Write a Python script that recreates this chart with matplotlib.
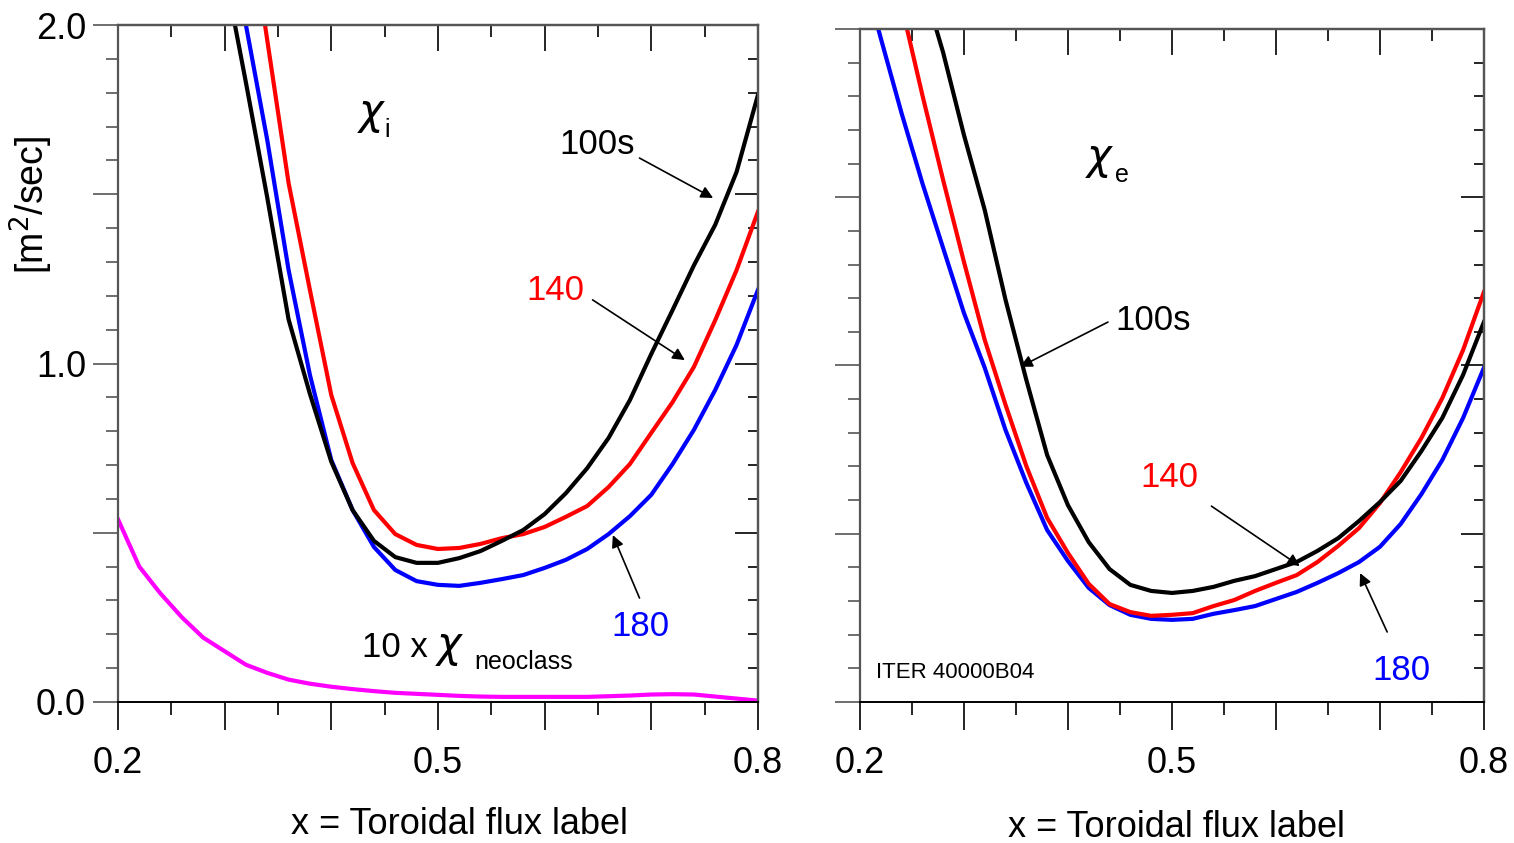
import matplotlib
matplotlib.use('Agg')
import matplotlib.pyplot as plt
import numpy as np
from matplotlib.ticker import MultipleLocator, NullFormatter

plt.rcParams['font.family'] = ['Liberation Sans', 'DejaVu Sans']
plt.rcParams['mathtext.fontset'] = 'dejavusans'

# radial grid (toroidal flux label)
x = np.round(np.arange(0.20, 0.801, 0.02), 2)

# chi_i  [m^2/sec]
chi_i_100 = [np.nan]*5 + [2.16, 1.83, 1.49, 1.13, 0.91, 0.71, 0.567, 0.476, 0.428, 0.411, 0.411,
             0.425, 0.446, 0.476, 0.508, 0.555, 0.617, 0.691, 0.78, 0.892, 1.028, 1.158, 1.29,
             1.41, 1.566, 1.793]
chi_i_140 = [np.nan]*6 + [2.38, 1.955, 1.533, 1.217, 0.907, 0.706, 0.567, 0.496, 0.464, 0.452,
             0.455, 0.467, 0.484, 0.496, 0.517, 0.547, 0.579, 0.635, 0.703, 0.795, 0.886, 0.99,
             1.128, 1.276, 1.448]
chi_i_180 = [np.nan]*5 + [2.35, 2.0, 1.66, 1.276, 0.966, 0.715, 0.567, 0.458, 0.39, 0.357, 0.346,
             0.343, 0.352, 0.363, 0.375, 0.396, 0.42, 0.452, 0.496, 0.549, 0.612, 0.703, 0.804,
             0.922, 1.055, 1.217]
chi_neo10 = [0.54, 0.40, 0.32, 0.25, 0.19, 0.15, 0.11, 0.086, 0.066, 0.054, 0.045, 0.038, 0.032,
             0.027, 0.024, 0.021, 0.018, 0.016, 0.015, 0.015, 0.015, 0.015, 0.015, 0.017, 0.019,
             0.022, 0.023, 0.022, 0.016, 0.010, 0.004]

# chi_e  [m^2/sec]
chi_e_100 = [np.nan]*2 + [2.36, 2.14, 1.93, 1.685, 1.462, 1.195, 0.957, 0.734, 0.585, 0.475, 0.395,
             0.348, 0.33, 0.324, 0.33, 0.342, 0.36, 0.374, 0.395, 0.416, 0.449, 0.487, 0.538,
             0.594, 0.657, 0.746, 0.844, 0.972, 1.129]
chi_e_140 = [np.nan]*2 + [2.07, 1.804, 1.551, 1.308, 1.076, 0.883, 0.701, 0.547, 0.443, 0.351,
             0.291, 0.267, 0.256, 0.259, 0.264, 0.285, 0.303, 0.33, 0.354, 0.377, 0.416, 0.464,
             0.517, 0.591, 0.683, 0.785, 0.903, 1.046, 1.218]
chi_e_180 = [2.2, 1.973, 1.75, 1.542, 1.349, 1.156, 0.993, 0.808, 0.651, 0.511, 0.419, 0.339, 0.288,
             0.259, 0.247, 0.244, 0.247, 0.262, 0.273, 0.285, 0.306, 0.327, 0.354, 0.383, 0.416,
             0.461, 0.529, 0.618, 0.719, 0.844, 0.993]

fig = plt.figure(figsize=(15.14, 8.43), dpi=100)
ax1 = fig.add_axes([0.0779, 0.1673, 0.4227, 0.8030])
ax2 = fig.add_axes([0.5680, 0.1673, 0.4121, 0.7983])

spine_col = '#555555'


def style_axes(ax, ylabels):
    ax.set_xlim(0.2, 0.8)
    ax.set_ylim(0.0, 2.0)
    for s in ['left', 'top', 'right']:
        ax.spines[s].set_color(spine_col)
        ax.spines[s].set_linewidth(1.6)
    ax.spines['bottom'].set_color('black')
    ax.spines['bottom'].set_linewidth(1.4)
    # bottom / left ticks point outward
    ax.xaxis.set_major_locator(MultipleLocator(0.1))
    ax.xaxis.set_minor_locator(MultipleLocator(0.05))
    ax.yaxis.set_major_locator(MultipleLocator(0.5))
    ax.yaxis.set_minor_locator(MultipleLocator(0.1))
    ax.tick_params(axis='x', which='major', direction='out', length=20, width=1.2,
                   labelsize=26, pad=12)
    ax.tick_params(axis='x', which='minor', direction='out', length=9.5, width=1.2)
    ax.tick_params(axis='y', which='major', direction='out', length=18, width=1.2,
                   labelsize=26, pad=5, color=spine_col)
    ax.tick_params(axis='y', which='minor', direction='out', length=8.6, width=1.2,
                   color=spine_col)
    # only 0.2, 0.5, 0.8 are labelled
    ax.set_xticks([0.2, 0.3, 0.4, 0.5, 0.6, 0.7, 0.8])
    ax.set_xticklabels(['0.2', '', '', '0.5', '', '', '0.8'])
    if ylabels:
        ax.set_yticks([0.0, 0.5, 1.0, 1.5, 2.0])
        ax.set_yticklabels(['0.0', '', '1.0', '', '2.0'])
    else:
        ax.set_yticklabels([])
    # top and right ticks point inward
    top = ax.secondary_xaxis('top')
    top.xaxis.set_major_locator(MultipleLocator(0.1))
    top.xaxis.set_minor_locator(MultipleLocator(0.05))
    top.xaxis.set_major_formatter(NullFormatter())
    top.tick_params(which='major', direction='in', length=18.7, width=1.2)
    top.tick_params(which='minor', direction='in', length=8.6, width=1.2)
    top.spines['top'].set_color(spine_col)
    top.spines['top'].set_linewidth(1.6)
    right = ax.secondary_yaxis('right')
    right.yaxis.set_major_locator(MultipleLocator(0.5))
    right.yaxis.set_minor_locator(MultipleLocator(0.1))
    right.yaxis.set_major_formatter(NullFormatter())
    right.tick_params(which='major', direction='in', length=16.5, width=1.2)
    right.tick_params(which='minor', direction='in', length=7.5, width=1.2)
    right.spines['right'].set_color(spine_col)
    right.spines['right'].set_linewidth(1.6)


style_axes(ax1, True)
style_axes(ax2, False)

lw = 3.0
arrow = dict(arrowstyle='-|>', color='black', lw=1.2, mutation_scale=18,
             shrinkA=0, shrinkB=0)
chi = r'$\chi$'

# ---- left panel: chi_i
ax1.plot(x, chi_neo10, color='#ff00ff', lw=lw)
ax1.plot(x, chi_i_180, color='#0000ff', lw=lw)
ax1.plot(x, chi_i_140, color='#ff0000', lw=lw)
ax1.plot(x, chi_i_100, color='black', lw=lw)

ax1.text(0.438, 1.735, chi, fontsize=30, ha='center', va='center')
ax1.text(0.452, 1.690, 'i', fontsize=18, ha='center', va='center')
ax1.text(0.649, 1.646, '100s', fontsize=25, ha='center', va='center')
ax1.annotate('', xy=(0.758, 1.489), xytext=(0.689, 1.607), arrowprops=arrow)
ax1.text(0.610, 1.217, '140', fontsize=25, color='#ff0000', ha='center', va='center')
ax1.annotate('', xy=(0.7315, 1.010), xytext=(0.645, 1.188), arrowprops=arrow)
ax1.text(0.690, 0.222, '180', fontsize=25, color='#0000ff', ha='center', va='center')
ax1.annotate('', xy=(0.664, 0.493), xytext=(0.689, 0.307), arrowprops=arrow)
ax1.text(0.4287, 0.160, '10 x', fontsize=25, ha='left', va='center')
ax1.text(0.511, 0.160, chi, fontsize=30, ha='center', va='center')
ax1.text(0.5345, 0.118, 'neoclass', fontsize=18, ha='left', va='center')

ax1.set_xlabel('x = Toroidal flux label', fontsize=26, va='top')
ax1.xaxis.set_label_coords(0.534, -0.155)
fig.text(0.0211, 0.757, '[m$^2$/sec]', fontsize=27, rotation=90,
         ha='center', va='center')

# ---- right panel: chi_e
ax2.plot(x, chi_e_180, color='#0000ff', lw=lw)
ax2.plot(x, chi_e_140, color='#ff0000', lw=lw)
ax2.plot(x, chi_e_100, color='black', lw=lw)

ax2.text(0.431, 1.610, chi, fontsize=30, ha='center', va='center')
ax2.text(0.452, 1.566, 'e', fontsize=18, ha='center', va='center')
ax2.text(0.482, 1.135, '100s', fontsize=25, ha='center', va='center')
ax2.annotate('', xy=(0.354, 0.996), xytext=(0.4385, 1.129), arrowprops=arrow)
ax2.text(0.498, 0.666, '140', fontsize=25, color='#ff0000', ha='center', va='center')
ax2.annotate('', xy=(0.623, 0.404), xytext=(0.538, 0.582), arrowprops=arrow)
ax2.text(0.721, 0.095, '180', fontsize=25, color='#0000ff', ha='center', va='center')
ax2.annotate('', xy=(0.681, 0.383), xytext=(0.707, 0.208), arrowprops=arrow)
ax2.text(0.2154, 0.089, 'ITER 40000B04', fontsize=16, ha='left', va='center')

ax2.set_xlabel('x = Toroidal flux label', fontsize=26, va='top')
ax2.xaxis.set_label_coords(0.508, -0.160)

fig.savefig('out.png', dpi=100)
